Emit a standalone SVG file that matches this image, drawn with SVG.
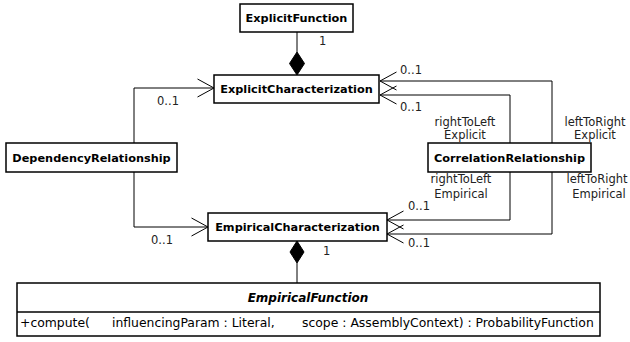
<svg xmlns="http://www.w3.org/2000/svg" width="630" height="342" viewBox="0 0 630 342">
<style>
.box{fill:#fff;stroke:#000;stroke-width:1.5}
.name{font-family:"DejaVu Sans",Verdana,sans-serif;font-size:11.3px;font-weight:bold;fill:#000;text-anchor:middle}
.lbl{font-family:"DejaVu Sans",Verdana,sans-serif;font-size:11.5px;fill:#222}
.mid{text-anchor:middle}
.con{fill:none;stroke:#000;stroke-width:1}
.dia{fill:#000;stroke:#000;stroke-width:1}
.arr{marker-end:url(#open)}
.meth{font-family:"DejaVu Sans",Verdana,sans-serif;font-size:12.4px;fill:#000}
</style>
<defs>
<marker id="open" viewBox="-18 -10 20 20" markerWidth="20" markerHeight="20" refX="0" refY="0" orient="auto" markerUnits="userSpaceOnUse">
<path d="M-16.5,-9 L0,0 L-16.5,9" fill="none" stroke="#000" stroke-width="1"/>
</marker>
</defs>
<rect width="630" height="342" fill="#fff"/>
<g id="connectors">
<path class="con" d="M297,32 V52"/>
<path class="dia" d="M297,52 L304.5,63.5 L297,75 L289.5,63.5 Z"/>
<path class="con" d="M297,263 V283"/>
<path class="dia" d="M297,241 L304,252 L297,263 L290,252 Z"/>
<path class="con arr" d="M134,143 V88 H214"/>
<path class="con arr" d="M134,172 V227 H208"/>
<path class="con arr" d="M552,143 V81 H380"/>
<path class="con arr" d="M510,143 V95 H380"/>
<path class="con arr" d="M510,172 V220 H387"/>
<path class="con arr" d="M552,172 V234 H387"/>
</g>
<g id="labels">
<text class="lbl" x="319" y="45">1</text>
<text class="lbl" x="400" y="74">0..1</text>
<text class="lbl" x="400" y="111">0..1</text>
<text class="lbl" x="157" y="105">0..1</text>
<text class="lbl" x="151" y="244">0..1</text>
<text class="lbl" x="408" y="210">0..1</text>
<text class="lbl" x="408" y="247">0..1</text>
<text class="lbl" x="323" y="255">1</text>
<text class="lbl mid" x="465" y="126">rightToLeft</text>
<text class="lbl mid" x="465" y="139">Explicit</text>
<text class="lbl mid" x="595" y="126">leftToRight</text>
<text class="lbl mid" x="595" y="139">Explicit</text>
<text class="lbl mid" x="461" y="183">rightToLeft</text>
<text class="lbl mid" x="461" y="198">Empirical</text>
<text class="lbl mid" x="597" y="183">leftToRight</text>
<text class="lbl mid" x="599" y="198">Empirical</text>
</g>
<g id="ExplicitFunction">
<rect class="box" x="240" y="4" width="113" height="28"/>
<text class="name" x="296.5" y="22">ExplicitFunction</text>
</g>
<g id="ExplicitCharacterization">
<rect class="box" x="214" y="75" width="165" height="28"/>
<text class="name" x="296.5" y="93">ExplicitCharacterization</text>
</g>
<g id="DependencyRelationship">
<rect class="box" x="6" y="143" width="171" height="29"/>
<text class="name" x="91.5" y="161.5">DependencyRelationship</text>
</g>
<g id="CorrelationRelationship">
<rect class="box" x="428" y="143" width="163" height="29"/>
<text class="name" x="509.5" y="161.5">CorrelationRelationship</text>
</g>
<g id="EmpiricalCharacterization">
<rect class="box" x="208" y="213" width="179" height="28"/>
<text class="name" x="297.5" y="231">EmpiricalCharacterization</text>
</g>
<g id="EmpiricalFunction">
<rect class="box" x="17" y="283" width="583" height="53"/>
<line x1="17" y1="312" x2="600" y2="312" stroke="#000" stroke-width="1.5"/>
<text class="name" x="308" y="302" style="font-style:italic;font-size:12px">EmpiricalFunction</text>
<text class="meth" y="327"><tspan x="20">+compute(</tspan><tspan x="112">influencingParam : Literal,</tspan><tspan x="302">scope : AssemblyContext) : ProbabilityFunction</tspan></text>
</g>
</svg>
